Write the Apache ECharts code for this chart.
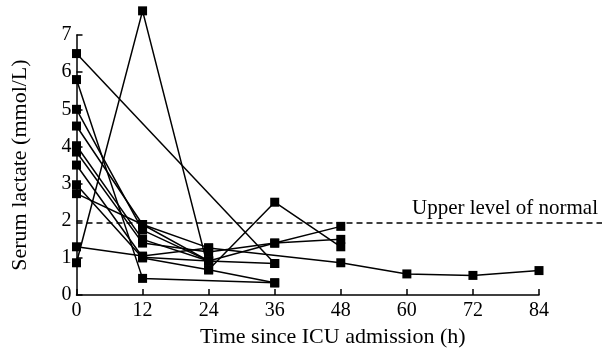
<!DOCTYPE html>
<html>
<head>
<meta charset="utf-8">
<script src="https://cdn.jsdelivr.net/npm/echarts@6/dist/echarts.min.js"></script>
<style>html,body{margin:0;padding:0;background:#fff}#c{width:602px;height:353px}</style>
</head>
<body>
<div id="c"></div>
<script>
// Hours since ICU admission (x categories as values)
const hours = [0, 12, 24, 36, 48, 60, 72, 84];
const xTicks = [0, 12, 24, 36, 48, 60, 72, 84];
const yTicks = [0, 1, 2, 3, 4, 5, 6, 7];
const upperNormal = 2;
const refLabel = 'Upper level of normal';
// Per-patient serum lactate (mmol/L) at each hour; null = not measured
const p1  = [6.5,  null, null, 0.85, null, null, null, null];
const p2  = [0.87, 7.65, 0.68, 2.5,  1.3,  null, null, null];
const p3  = [5.8,  0.45, null, 0.33, null, null, null, null];
const p4  = [1.3,  1.05, 1.27, null, 0.87, 0.57, 0.53, 0.66];
const p5  = [5.0,  1.75, 0.92, 1.4,  1.85, null, null, null];
const p6  = [4.55, 1.9,  0.92, 0.85, null, null, null, null];
const p7  = [4.02, 1.5,  0.92, null, null, null, null, null];
const p8  = [3.85, 1.4,  1.16, 1.4,  1.5,  null, null, null];
const p9  = [3.5,  1.02, 0.92, null, null, null, null, null];
const p10 = [2.97, 1.0,  0.68, 0.33, null, null, null, null];
const p11 = [2.73, 1.9,  1.27, null, null, null, null, null];
const patients = [p1, p2, p3, p4, p5, p6, p7, p8, p9, p10, p11];

const FONT = 'Liberation Serif';
const chart = echarts.init(document.getElementById('c'), null, {renderer: 'canvas'});

const series = patients.map(function (p) {
  return {
    type: 'line',
    xAxisIndex: 0, yAxisIndex: 0,
    data: hours.map(function (h, i) { return [h, p[i]]; }).filter(function (d) { return d[1] !== null; }),
    symbol: 'rect', symbolSize: 9,
    clip: false,
    lineStyle: {color: '#000', width: 1.5},
    itemStyle: {color: '#000'},
    z: 3
  };
});
series.push({
  type: 'line', xAxisIndex: 1, yAxisIndex: 1,
  data: [], silent: true,
  markLine: {
    silent: true, symbol: 'none', animation: false,
    lineStyle: {color: '#000', type: [6, 4], width: 1.5},
    label: {position: 'insideEndTop', formatter: refLabel, color: '#000', fontFamily: FONT, fontSize: 21, distance: [4, 4]},
    data: [{yAxis: upperNormal}]
  }
});

chart.setOption({
  animation: false,
  grid: [
    {left: 76.5, right: 63, top: 35, bottom: 55.5},
    {left: 76.5, right: 0, top: 35, bottom: 55.5}
  ],
  xAxis: [{
    type: 'value', gridIndex: 0, min: 0, max: 84, interval: 12,
    axisLine: {lineStyle: {color: '#000', width: 1.5}},
    axisTick: {inside: true, length: 6, lineStyle: {color: '#000', width: 1.5}},
    axisLabel: {color: '#000', fontFamily: FONT, fontSize: 20, margin: 6,
      formatter: function (v) { return xTicks.indexOf(v) >= 0 ? String(v) : ''; }},
    splitLine: {show: false},
    name: 'Time since ICU admission (h)', nameLocation: 'middle', nameGap: 22,
    nameTextStyle: {color: '#000', fontFamily: FONT, fontSize: 22, padding: [0, 0, 0, 50]}
  }, {
    type: 'value', gridIndex: 1, min: 0, max: 1, show: false
  }],
  yAxis: [{
    type: 'value', gridIndex: 0, min: 0, max: 7, interval: 1,
    axisLine: {show: true, lineStyle: {color: '#000', width: 1.5}},
    axisTick: {show: true, inside: true, length: 6, lineStyle: {color: '#000', width: 1.5}},
    axisLabel: {color: '#000', fontFamily: FONT, fontSize: 20, margin: 5,
      formatter: function (v) { return yTicks.indexOf(v) >= 0 ? String(v) : ''; }},
    splitLine: {show: false},
    name: 'Serum lactate (mmol/L)', nameLocation: 'middle', nameGap: 45,
    nameTextStyle: {color: '#000', fontFamily: FONT, fontSize: 22}
  }, {
    type: 'value', gridIndex: 1, min: 0, max: 7, show: false
  }],
  series: series
});
</script>
</body>
</html>
